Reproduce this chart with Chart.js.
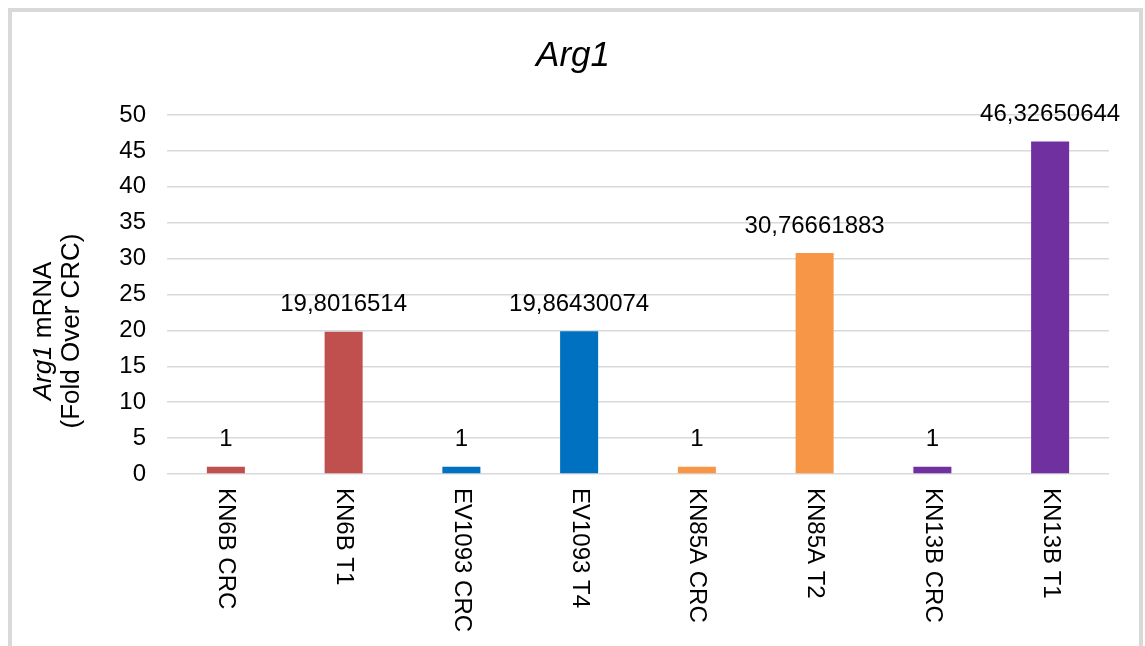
<!DOCTYPE html>
<html>
<head>
<meta charset="utf-8">
<script src="https://cdn.jsdelivr.net/npm/chart.js@4.4.1/dist/chart.umd.min.js"></script>
<style>
  html, body { margin: 0; padding: 0; background: #fff; overflow: hidden; width: 1145px; height: 646px; }
  #frame { position: absolute; left: 8px; top: 8px; width: 1127px; height: 700px; border: 4px solid #d9d9d9; }
  #c { position: absolute; left: 0; top: 0; }
</style>
</head>
<body>
<div id="frame"></div>
<canvas id="c" width="1145" height="646"></canvas>
<script>
// Arg1 expression per sample, fold change over the matching CRC control
const categories = ['KN6B CRC', 'KN6B T1', 'EV1093 CRC', 'EV1093 T4', 'KN85A CRC', 'KN85A T2', 'KN13B CRC', 'KN13B T1'];
const foldChange = [1, 19.8016514, 1, 19.86430074, 1, 30.76661883, 1, 46.32650644];
const barColors = ['#C0504D', '#C0504D', '#0070C0', '#0070C0', '#F79646', '#F79646', '#7030A0', '#7030A0'];
const chartTitle = 'Arg1';
const geneName = 'Arg1';
const yTitleRest = ' mRNA';
const yTitleSecond = '(Fold Over CRC)';

const FAMILY = '"Liberation Sans", Arial, Helvetica, sans-serif';
const TXT = 24;
const AXIS_TXT = 26;

// decimal comma, as in the source spreadsheet
const fmt = v => String(v).replace('.', ',');

// value labels above each bar
const valueLabels = {
  id: 'valueLabels',
  afterDatasetsDraw(chart) {
    const ctx = chart.ctx;
    const meta = chart.getDatasetMeta(0);
    ctx.save();
    ctx.font = `${TXT}px ${FAMILY}`;
    ctx.fillStyle = '#000';
    ctx.textAlign = 'center';
    ctx.textBaseline = 'middle';
    meta.data.forEach((bar, i) => {
      ctx.fillText(fmt(foldChange[i]), bar.x, bar.y - 27);
    });
    ctx.restore();
  }
};

// category names, turned to read top-to-bottom under each bar
const categoryLabels = {
  id: 'categoryLabels',
  afterDraw(chart) {
    const ctx = chart.ctx;
    const xs = chart.scales.x;
    ctx.save();
    ctx.font = `${TXT}px ${FAMILY}`;
    ctx.fillStyle = '#000';
    ctx.textAlign = 'left';
    ctx.textBaseline = 'middle';
    categories.forEach((name, i) => {
      const x = xs.getPixelForValue(i);
      ctx.save();
      ctx.translate(x, chart.chartArea.bottom + 14);
      ctx.rotate(Math.PI / 2);
      ctx.fillText(name, 0, 0);
      ctx.restore();
    });
    ctx.restore();
  }
};

// two-line y-axis title with the gene name in italics
const yAxisTitle = {
  id: 'yAxisTitle',
  afterDraw(chart) {
    const ctx = chart.ctx;
    const cy = 331;
    ctx.save();
    ctx.fillStyle = '#000';
    ctx.textBaseline = 'alphabetic';
    const italic = `italic ${AXIS_TXT}px ${FAMILY}`;
    const normal = `${AXIS_TXT}px ${FAMILY}`;
    // first line
    ctx.save();
    ctx.translate(51, cy);
    ctx.rotate(-Math.PI / 2);
    ctx.font = italic;
    const w1 = ctx.measureText(geneName).width;
    ctx.font = normal;
    const w2 = ctx.measureText(yTitleRest).width;
    const x0 = -(w1 + w2) / 2;
    ctx.textAlign = 'left';
    ctx.font = italic;
    ctx.fillText(geneName, x0, 0);
    ctx.font = normal;
    ctx.fillText(yTitleRest, x0 + w1, 0);
    ctx.restore();
    // second line
    ctx.save();
    ctx.translate(79, cy);
    ctx.rotate(-Math.PI / 2);
    ctx.font = normal;
    ctx.textAlign = 'center';
    ctx.fillText(yTitleSecond, 0, 0);
    ctx.restore();
    ctx.restore();
  }
};

new Chart(document.getElementById('c'), {
  type: 'bar',
  data: {
    labels: categories,
    datasets: [{
      data: foldChange,
      backgroundColor: barColors,
      borderWidth: 0,
      barPercentage: 0.323,
      categoryPercentage: 1.0
    }]
  },
  options: {
    responsive: false,
    animation: false,
    devicePixelRatio: 1,
    layout: { padding: { left: 37, right: 36, top: 0, bottom: 0 } },
    plugins: {
      legend: { display: false },
      tooltip: { enabled: false },
      title: {
        display: true,
        text: chartTitle,
        color: '#000',
        font: { family: FAMILY, size: 35, style: 'italic', weight: 'normal', lineHeight: 1.2 },
        padding: { top: 35, bottom: 38 }
      }
    },
    scales: {
      x: {
        grid: { display: false },
        border: { display: false },
        ticks: { display: false },
        afterFit(scale) { scale.height = 172; }
      },
      y: {
        min: 0,
        max: 50,
        ticks: {
          stepSize: 5,
          padding: 21,
          color: '#000',
          font: { family: FAMILY, size: TXT }
        },
        grid: { color: '#d9d9d9', lineWidth: 1.5, drawTicks: false },
        border: { display: false },
        afterFit(scale) { scale.width = 130; }
      }
    }
  },
  plugins: [valueLabels, categoryLabels, yAxisTitle]
});
</script>
</body>
</html>
